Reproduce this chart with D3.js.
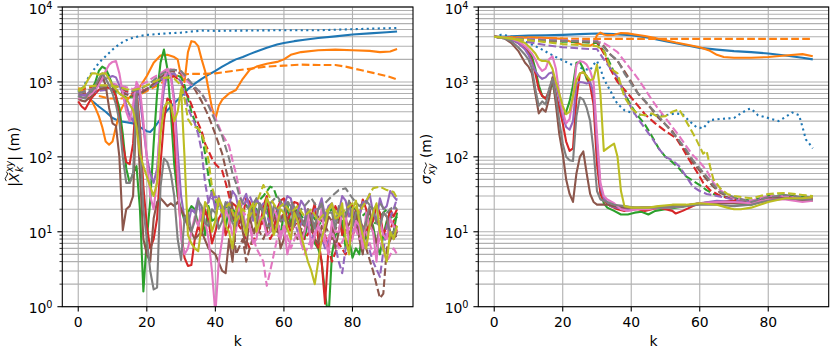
<!DOCTYPE html>
<html>
<head>
<meta charset="utf-8">
<script src="https://cdn.jsdelivr.net/npm/d3@7"></script>
<style>
body { margin: 0; background: #fff; }
svg { display: block; font-family: "DejaVu Sans", sans-serif; }
text { white-space: pre; }
</style>
</head>
<body>
<svg id="fig" width="830" height="353"></svg>
<script>
// ---- data: [k, value] pairs ----

// left panel, |X~xy_k| (m)
var magBlue = [[0,780],[2,650],[4,560],[6,470],[8,400],[10,330],[12,300],[14,290],[16,280],[18,250],[20,220],[21,215],[22,240],[24,320],[26,420],[28,520],[30,640],[32,800],[34,950],[36,1100],[38,1250],[40,1400],[42,1600],[44,1800],[46,2000],[48,2150],[50,2350],[52,2550],[55,2850],[58,3150],[60,3300],[63,3500],[66,3650],[70,3850],[75,4050],[80,4300],[85,4450],[90,4600],[93,4700]];
var magBlueDot = [[0,720],[1,800],[2,950],[3,1150],[4,1350],[5,1550],[6,1800],[8,2200],[10,2700],[12,3200],[14,3600],[16,3900],[18,4100],[20,4250],[23,4350],[26,4450],[30,4550],[33,4700],[36,4850],[40,4800],[50,4850],[60,4900],[70,4900],[80,5050],[86,5150],[93,5250]];
var magOrange = [[0,820],[2,700],[4,550],[5,450],[6,350],[7,250],[8,160],[9,145],[10,160],[11,250],[12,380],[13,480],[14,560],[16,700],[18,860],[20,1200],[22,1800],[24,2250],[26,2300],[28,2150],[29,2000],[30,1200],[31,1000],[32,2500],[33,3500],[34,3400],[35,3000],[36,2000],[37,1400],[38,800],[39,450],[40,320],[41,480],[42,580],[44,700],[46,780],[48,1100],[50,1450],[52,1600],[55,1750],[58,1850],[60,2000],[62,2300],[65,2500],[70,2650],[75,2700],[80,2650],[85,2600],[88,2500],[91,2550],[93,2750]];
var magOrangeDash = [[0,820],[3,750],[6,650],[9,600],[12,600],[15,620],[18,680],[21,800],[24,950],[27,1150],[30,1250],[33,1280],[36,1280],[40,1300],[45,1400],[50,1500],[55,1600],[60,1650],[65,1700],[70,1680],[75,1680],[78,1600],[82,1450],[86,1320],[90,1200],[93,1080]];
var magGreen = [[0,650],[1,600],[2,620],[3,700],[4,800],[5,1000],[6,1400],[7,1600],[8,1500],[9,1200],[10,900],[11,650],[12,450],[13,200],[14,70],[15,45],[16,60],[17,75],[18,20],[19,1.6],[20,8],[21,26],[22,150],[23,700],[24,1800],[25,2700],[26,1500],[27,400],[28,80],[29,30],[30,20],[31,14],[32,18],[33,22],[34,20],[35,12],[36,18],[37,9],[38,22],[39,14],[40,15],[41,26],[42,20],[43,11],[44,22],[45,16],[46,12],[47,24],[48,18],[49,10],[50,14],[51,22],[52,20],[53,13],[54,16],[55,25],[56,10],[57,18],[58,14],[59,9],[60,18],[61,24],[62,12],[63,17],[64,15],[65,10],[66,8],[67,14],[68,12],[69,7],[70,6],[71,4],[72,1.5],[73,0.7],[74,5],[75,9],[76,10],[77,14],[78,6],[79,8],[80,4.5],[81,6],[82,5],[83,11],[84,8],[85,15],[86,12],[87,7],[88,5],[89,9],[90,14],[91,8],[92,10],[93,18]];
var magGreenDash = [[0,700],[2,750],[4,800],[6,850],[8,830],[10,800],[12,700],[14,620],[16,640],[18,700],[20,800],[22,900],[24,1050],[26,1200],[28,1300],[30,1150],[31,900],[32,600],[33,400],[34,300],[35,230],[36,200],[37,110],[38,55],[39,32],[40,25],[42,20],[44,22],[46,18],[48,25],[50,20],[52,24],[54,30],[56,40],[57,38],[58,28],[60,22],[62,16],[64,20],[66,14],[68,18],[70,12],[72,16],[74,20],[76,14],[78,18],[80,22],[82,15],[84,18],[86,12],[88,16],[90,20],[92,14],[93,16]];
var magRed = [[0,550],[1,470],[2,430],[3,520],[4,620],[5,700],[6,780],[7,820],[8,850],[9,830],[10,800],[11,650],[12,320],[13,150],[14,85],[15,80],[16,150],[17,800],[18,250],[19,40],[20,12],[21,6],[22,8],[23,15],[24,80],[25,300],[26,600],[27,560],[28,180],[29,40],[30,10],[31,4.5],[32,3.5],[33,3.6],[34,8],[35,12],[36,9],[37,20],[38,14],[39,7],[40,10],[41,15],[42,18],[43,9],[44,12],[45,24],[46,22],[47,13],[48,16],[49,28],[50,25],[51,15],[52,18],[53,11],[54,22],[55,30],[56,15],[57,10],[58,20],[59,26],[60,28],[61,14],[62,18],[63,25],[64,24],[65,13],[66,12],[67,20],[68,16],[69,24],[70,8],[71,4],[72,1.1],[73,6],[74,12],[75,22],[76,18],[77,9],[78,14],[79,25],[80,22],[81,12],[82,16],[83,27],[84,20],[85,11],[86,14],[87,22],[88,18],[89,9],[90,12],[91,20],[92,16],[93,20]];
var magRedDash = [[0,800],[2,820],[4,850],[6,870],[8,880],[10,900],[12,850],[14,750],[16,700],[18,750],[20,800],[22,900],[24,1050],[26,1150],[28,1200],[30,1000],[31,780],[32,650],[33,500],[34,380],[35,280],[36,220],[37,150],[38,120],[39,95],[40,80],[41,72],[42,65],[43,45],[44,30],[45,20],[46,14],[48,10],[50,6],[52,9],[54,14],[56,8],[58,12],[60,18],[62,10],[64,14],[66,8],[68,11],[70,6],[72,9],[74,4],[76,7],[78,5],[80,9],[82,14],[84,10],[86,16],[88,12],[90,8],[92,14],[93,10]];
var magPurple = [[0,700],[2,650],[4,800],[6,1000],[8,1100],[10,1200],[11,1150],[12,900],[13,700],[14,500],[15,350],[16,300],[17,900],[18,600],[19,250],[20,100],[21,60],[22,45],[23,70],[24,300],[25,800],[26,1300],[27,1250],[28,600],[29,120],[30,30],[31,15],[32,12],[33,20],[34,18],[35,28],[36,14],[37,22],[38,25],[39,34],[40,20],[41,30],[42,16],[43,24],[44,22],[45,35],[46,30],[47,18],[48,26],[49,32],[50,20],[51,14],[52,28],[53,22],[54,18],[55,26],[56,24],[57,15],[58,16],[59,24],[60,22],[61,30],[62,28],[63,17],[64,18],[65,26],[66,22],[67,12],[68,14],[69,20],[70,20],[71,28],[72,16],[73,22],[74,24],[75,14],[76,18],[77,30],[78,26],[79,16],[80,20],[81,12],[82,16],[83,25],[84,24],[85,32],[86,18],[87,14],[88,28],[89,20],[90,22],[91,35],[92,30],[93,26]];
var magPurpleDash = [[0,650],[2,680],[4,720],[6,760],[8,780],[10,800],[12,760],[14,700],[16,680],[18,720],[20,800],[22,900],[24,1050],[26,1250],[28,1300],[30,1000],[31,700],[32,450],[33,350],[34,280],[35,200],[36,120],[37,45],[38,25],[40,30],[42,20],[44,26],[46,15],[48,22],[50,30],[52,18],[54,24],[56,12],[58,18],[60,14],[62,20],[64,10],[66,16],[68,8],[70,12],[72,6],[74,10],[76,4],[77,2.8],[78,6],[80,10],[82,14],[84,8],[86,4],[88,2.5],[90,12],[92,20],[93,28]];
var magBrown = [[0,600],[1,560],[2,550],[3,600],[4,650],[5,800],[6,1000],[7,1200],[8,900],[9,450],[10,280],[11,260],[12,100],[13,10.5],[14,20],[15,22],[16,30],[17,500],[18,60],[19,8],[20,5],[21,4],[22,15],[23,25],[24,28],[25,25],[26,22],[27,24],[28,22],[29,25],[30,20],[31,16],[32,12],[34,8],[36,10],[38,6],[40,5],[42,3],[43,2.8],[44,8],[45,4],[46,14],[47,20],[48,10],[49,6],[50,16],[51,10],[52,12],[53,22],[54,18],[55,9],[56,10],[57,16],[58,14],[59,6],[60,8],[61,14],[62,12],[63,20],[64,16],[65,9],[66,10],[67,18],[68,14],[69,8],[70,7],[71,12],[72,10],[73,16],[74,14],[75,6],[76,10],[77,18],[78,16],[79,9],[80,12],[81,20],[82,8],[83,5],[84,14],[85,20],[86,10],[87,7],[88,12],[89,18],[90,16],[91,10],[92,8],[93,10]];
var magBrownDash = [[0,700],[2,720],[4,750],[6,800],[8,820],[10,800],[12,750],[14,680],[16,650],[18,700],[20,800],[22,950],[24,1150],[26,1350],[28,1400],[30,1300],[32,1050],[34,800],[36,550],[38,350],[40,200],[42,110],[43,70],[44,45],[45,20],[46,5],[48,8],[49,4],[50,6],[52,12],[54,8],[56,14],[58,10],[60,18],[62,12],[64,8],[66,14],[68,10],[70,16],[72,12],[74,8],[76,14],[78,10],[80,16],[82,12],[84,6],[86,3],[88,1.3],[89,1.5],[90,6],[92,10],[93,8]];
var magPink = [[0,600],[2,620],[4,700],[6,900],[7,1100],[8,1400],[9,1700],[10,1850],[11,1900],[12,1300],[13,700],[14,400],[15,300],[16,500],[17,1000],[18,800],[19,300],[20,100],[21,30],[22,20],[23,50],[24,400],[25,1100],[26,1500],[27,1200],[28,500],[29,60],[30,8],[31,5],[32,6],[33,10],[34,16],[35,12],[36,20],[37,14],[38,8],[39,3],[40,0.8],[41,4],[42,8],[43,20],[44,15],[45,9],[46,10],[47,22],[48,18],[49,11],[50,12],[51,7],[52,8],[53,16],[54,14],[55,9],[56,10],[57,20],[58,16],[59,8],[60,12],[61,5],[62,8],[63,15],[64,14],[65,7],[66,10],[67,18],[68,6],[69,9],[70,12],[71,20],[72,8],[73,5],[74,14],[75,10],[76,10],[77,19],[78,16],[79,7],[80,8],[81,14],[82,12],[83,6],[84,18],[85,12],[86,10],[87,4],[88,14],[89,9],[90,8],[91,15],[92,12],[93,10]];
var magPinkDash = [[0,700],[2,750],[4,800],[6,850],[8,900],[10,950],[12,900],[14,850],[16,800],[18,900],[20,1000],[22,1150],[24,1300],[26,1500],[28,1450],[30,1350],[32,1000],[34,850],[36,700],[38,500],[40,330],[42,200],[44,140],[45,90],[46,60],[47,36],[48,20],[50,12],[52,6],[54,4],[55,1.9],[56,3],[58,8],[60,12],[62,6],[64,10],[66,5],[68,8],[70,12],[72,7],[74,10],[76,6],[78,9],[80,14],[82,8],[84,10],[86,5],[88,8],[90,4],[92,6],[93,5]];
var magGray = [[0,650],[2,600],[3,700],[4,750],[5,900],[6,1100],[7,1300],[8,1100],[9,900],[10,700],[11,500],[12,300],[13,100],[14,45],[15,45],[16,60],[17,700],[18,200],[19,20],[20,8],[21,3],[22,1.7],[23,1.8],[24,40],[25,95],[26,85],[27,60],[28,30],[29,8],[30,4.2],[31,15],[32,18],[33,10],[34,14],[35,26],[36,22],[37,13],[38,12],[39,20],[40,18],[41,11],[42,14],[43,25],[44,20],[45,13],[46,12],[47,18],[48,16],[49,9],[50,22],[51,16],[52,14],[53,24],[54,18],[55,12],[56,12],[57,22],[58,20],[59,14],[60,15],[61,25],[62,22],[63,12],[64,18],[65,15],[66,12],[67,20],[68,16],[69,11],[70,20],[71,24],[72,14],[73,18],[74,18],[75,11],[76,22],[77,16],[78,16],[79,26],[80,12],[81,18],[82,18],[83,10],[84,14],[85,22],[86,20],[87,13],[88,12],[89,18],[90,16],[91,9],[92,10],[93,12]];
var magGrayDash = [[0,700],[2,750],[4,800],[6,850],[8,880],[10,900],[12,850],[14,780],[16,750],[18,800],[20,900],[22,1050],[24,1250],[26,1400],[28,1450],[30,1400],[32,1100],[34,850],[36,700],[38,480],[40,300],[42,190],[44,95],[45,60],[46,45],[47,30],[48,24],[50,20],[52,28],[54,18],[56,24],[58,30],[60,22],[62,26],[64,18],[66,22],[68,28],[70,20],[72,24],[74,30],[76,36],[78,38],[80,28],[82,22],[84,26],[86,20],[88,24],[90,18],[92,22],[93,20]];
var magOlive = [[0,750],[1,800],[2,900],[3,1100],[4,1300],[5,1300],[6,1250],[7,1300],[8,1300],[9,1100],[10,900],[11,800],[12,700],[13,650],[14,600],[15,500],[16,420],[17,250],[18,110],[19,75],[20,55],[21,40],[22,30],[23,45],[24,200],[25,450],[26,540],[27,500],[28,300],[29,400],[30,800],[31,100],[32,9],[33,7],[34,6],[35,5.5],[36,12],[37,25],[38,20],[39,10],[40,14],[41,28],[42,22],[43,12],[44,10],[45,6],[46,18],[47,26],[48,14],[49,9],[50,20],[51,24],[52,10],[53,14],[54,16],[55,28],[56,22],[57,9],[58,12],[59,20],[60,18],[61,11],[62,8],[63,18],[64,14],[65,9],[66,6],[67,4],[68,3],[69,2],[70,4],[71,8],[72,12],[73,20],[74,24],[75,15],[76,16],[77,24],[78,8],[79,5],[80,20],[81,26],[82,14],[83,9],[84,6],[85,12],[86,18],[87,24],[88,10],[89,6],[90,4],[91,10],[92,8],[93,12]];
var magOliveDash = [[0,800],[2,850],[4,880],[6,900],[8,900],[10,880],[12,850],[14,800],[16,780],[18,820],[20,900],[22,1000],[24,1100],[26,1150],[28,1100],[30,900],[31,600],[32,320],[33,270],[34,250],[35,240],[36,200],[37,150],[38,90],[39,40],[40,28],[42,18],[44,24],[46,14],[48,20],[50,16],[52,24],[54,42],[56,28],[58,20],[60,24],[62,18],[64,22],[66,16],[68,20],[70,14],[72,18],[74,22],[76,16],[78,20],[80,24],[82,18],[84,26],[86,38],[88,40],[90,36],[92,34],[93,28]];

// right panel, sigma_xy (m)
var sigBlue = [[0,4000],[5,4050],[10,4150],[15,4200],[20,4250],[25,4350],[30,4420],[35,4350],[40,4200],[45,3900],[50,3500],[55,3150],[60,2850],[65,2700],[70,2580],[75,2500],[80,2400],[85,2250],[90,2100],[93,2000]];
var sigBlueDot = [[0,4000],[2,4250],[4,4150],[6,3900],[8,3600],[10,3300],[12,3000],[14,2700],[16,2400],[18,2150],[20,1950],[22,1750],[24,1600],[26,1500],[28,1440],[29,1700],[30,1900],[31,1500],[32,1100],[33,900],[34,750],[35,600],[36,510],[38,420],[40,390],[43,360],[46,360],[50,360],[53,380],[55,370],[57,300],[59,250],[61,240],[63,310],[66,320],[70,330],[72,380],[74,430],[75,440],[77,360],[80,330],[83,300],[85,340],[87,390],[89,360],[90,250],[91,170],[92,150],[93,130]];
var sigOrange = [[0,4000],[4,3950],[8,3900],[12,3900],[16,3850],[20,3750],[22,3500],[24,3300],[26,3100],[28,3050],[29,3200],[30,4200],[31,4550],[32,4300],[33,4200],[35,4250],[37,4500],[39,4450],[41,4300],[44,4100],[47,3850],[50,3600],[53,3350],[56,3150],[60,2900],[63,2600],[65,2300],[67,2150],[70,2100],[75,2100],[80,2150],[85,2250],[90,2350],[93,2200]];
var sigOrangeDash = [[0,4000],[5,3950],[10,3900],[15,3850],[20,3800],[25,3750],[30,3750],[40,3750],[50,3750],[60,3750],[70,3750],[80,3750],[93,3750]];
var sigGreen = [[0,4000],[3,3900],[5,3800],[7,3500],[9,2900],[10,2600],[11,2200],[12,1500],[13,900],[14,650],[15,600],[16,700],[17,1000],[18,600],[19,450],[20,350],[21,400],[22,550],[23,900],[24,1800],[25,1850],[26,1500],[27,1100],[28,950],[29,700],[30,150],[31,35],[32,24],[33,21],[35,19],[37,17],[39,17],[41,18],[43,18.5],[45,17],[47,19],[50,20],[53,21],[56,22],[60,24],[65,25],[70,24],[75,23],[80,27],[85,29],[90,28],[93,27]];
var sigGreenDash = [[0,4000],[5,3800],[10,3600],[15,3500],[20,3450],[25,3400],[30,3300],[32,2600],[34,1700],[36,1050],[38,700],[40,480],[42,350],[44,270],[46,190],[48,130],[50,100],[52,85],[54,70],[56,55],[58,48],[60,42],[62,36],[64,32],[66,30],[70,28],[75,26],[80,30],[85,31],[90,29],[93,30]];
var sigRed = [[0,4000],[3,3900],[5,3700],[7,3300],[9,2800],[10,2400],[11,1900],[12,1300],[13,800],[14,650],[15,600],[16,750],[17,1100],[18,700],[19,450],[20,280],[21,160],[22,120],[23,130],[24,600],[25,1300],[26,1350],[27,1200],[28,900],[29,500],[30,80],[31,32],[32,26],[34,22],[36,20],[38,19],[40,20],[42,20],[44,19],[46,20],[48,21],[50,20],[52,19],[53,17.5],[55,19],[58,22],[60,24],[65,25],[70,26],[75,24],[80,28],[85,29],[90,27],[93,28]];
var sigRedDash = [[0,4000],[5,3850],[10,3700],[15,3600],[20,3550],[25,3500],[30,3450],[32,2400],[34,1450],[36,1000],[39,700],[42,480],[44,370],[47,280],[50,220],[53,180],[55,130],[57,90],[59,65],[61,45],[63,36],[66,30],[70,27],[75,25],[80,29],[85,30],[90,28],[93,28]];
var sigPurple = [[0,4000],[3,3900],[5,3700],[7,3300],[9,2700],[10,2300],[11,1800],[12,1400],[13,1200],[14,1100],[15,1150],[16,1300],[17,1350],[18,900],[19,600],[20,350],[21,250],[22,230],[23,300],[24,950],[25,1000],[26,980],[27,950],[28,1000],[29,700],[30,150],[31,40],[32,28],[34,22],[36,21],[38,20],[40,20],[43,21],[46,21],[50,22],[55,22],[60,24],[65,26],[70,25],[75,25],[80,28],[85,28],[90,26],[93,27]];
var sigPurpleDash = [[0,4000],[5,3700],[10,3400],[15,3100],[20,2900],[25,2800],[28,2750],[30,2750],[32,2000],[34,1500],[36,1150],[38,700],[40,450],[42,320],[44,240],[46,180],[48,130],[50,100],[52,90],[54,75],[56,55],[58,40],[60,35],[62,32],[65,30],[70,27],[75,25],[80,29],[85,30],[90,28],[93,29]];
var sigBrown = [[0,4000],[3,3800],[5,3300],[7,2600],[9,1800],[10,1600],[11,1300],[12,700],[13,380],[14,440],[15,400],[16,600],[17,1150],[18,500],[19,200],[20,110],[21,50],[22,32],[23,25],[24,60],[25,100],[26,118],[27,60],[28,32],[29,25],[30,23],[31,23],[33,23],[35,22],[38,21],[41,21],[45,21],[50,22],[55,22],[60,24],[65,24],[70,24],[75,24],[80,28],[85,28],[90,26],[93,26]];
var sigBrownDash = [[0,4000],[5,3850],[10,3700],[15,3600],[20,3550],[25,3500],[30,3500],[32,3000],[34,2300],[36,1900],[38,1400],[40,1000],[42,700],[44,550],[46,430],[48,330],[50,270],[52,220],[54,160],[56,120],[58,85],[60,65],[62,50],[64,40],[66,33],[70,28],[75,25],[80,29],[85,30],[90,29],[93,29]];
var sigPink = [[0,4000],[3,3900],[5,3800],[7,3500],[9,3000],[10,2700],[11,2400],[12,2000],[13,1600],[14,1400],[15,1500],[16,2000],[17,2200],[18,1500],[19,700],[20,400],[21,280],[22,320],[23,600],[24,1700],[25,1900],[26,1850],[27,1700],[28,1400],[29,1000],[30,200],[31,45],[32,30],[33,27],[35,24],[37,20],[39,19],[42,20],[45,20],[48,21],[51,21],[55,22],[60,24],[65,25],[70,25],[75,24],[80,27],[85,27],[90,25],[93,26]];
var sigPinkDash = [[0,4000],[5,3850],[10,3750],[15,3650],[20,3600],[25,3550],[30,3500],[32,3300],[34,2900],[36,2500],[38,1900],[40,1450],[42,1100],[44,800],[46,580],[48,430],[50,330],[52,250],[54,190],[56,140],[58,105],[60,85],[62,66],[64,45],[66,36],[68,31],[70,28],[75,26],[80,30],[85,30],[90,28],[93,28]];
var sigGray = [[0,4000],[3,3800],[5,3500],[7,2900],[9,2300],[10,2000],[11,1500],[12,800],[13,480],[14,550],[15,500],[16,800],[17,1100],[18,650],[19,300],[20,150],[21,100],[22,90],[23,88],[24,350],[25,620],[26,580],[27,450],[28,300],[29,120],[30,35],[31,27],[33,25],[35,23],[38,22],[41,21],[45,21],[50,21],[55,22],[60,23],[65,23],[70,22],[75,23],[80,26],[85,28],[90,27],[93,27]];
var sigGrayDash = [[0,4000],[5,3850],[10,3700],[15,3600],[20,3550],[25,3500],[30,3450],[32,2900],[34,2300],[36,1950],[38,1300],[40,950],[42,700],[44,560],[46,440],[48,350],[50,270],[52,210],[54,165],[56,125],[58,90],[60,70],[62,55],[64,42],[66,34],[70,29],[75,25],[80,29],[85,31],[90,29],[93,29]];
var sigOlive = [[0,4000],[3,3900],[5,3800],[7,3600],[9,3300],[10,3000],[11,2700],[12,2400],[13,2000],[14,1900],[15,1900],[16,1850],[17,1500],[18,1000],[19,700],[20,480],[21,370],[22,400],[23,650],[24,1050],[25,1300],[26,1350],[27,1200],[28,1050],[29,1100],[30,1700],[31,700],[32,120],[33,130],[34,140],[35,150],[36,100],[37,35],[38,22],[40,21],[43,21],[45,21],[48,22],[52,23],[56,23],[60,24],[65,23],[68,21],[70,20],[72,20],[75,21],[80,25],[85,28],[90,28],[93,29]];
var sigOliveDash = [[0,4000],[5,3800],[10,3600],[15,3400],[20,3200],[25,3100],[28,3050],[30,3000],[32,2600],[34,1500],[36,1300],[38,630],[40,450],[42,370],[44,360],[46,380],[48,340],[50,350],[52,400],[54,430],[55,360],[57,250],[59,170],[61,110],[62,120],[63,75],[64,50],[66,38],[68,32],[70,30],[75,28],[80,32],[85,33],[90,31],[93,30]];

var xTicks = [0, 20, 40, 60, 80];
var yDecades = [0, 1, 2, 3, 4];

// tab10 colours
var C = {
    blue: "#1f77b4", orange: "#ff7f0e", green: "#2ca02c", red: "#d62728",
    purple: "#9467bd", brown: "#8c564b", pink: "#e377c2", gray: "#7f7f7f", olive: "#bcbd22"
};
var SOLID = null, DASH = "7.7,3.3", DOT = "2.1,3.4";

var leftSeries = [
    [magBlue, C.blue, SOLID], [magBlueDot, C.blue, DOT],
    [magOrange, C.orange, SOLID], [magOrangeDash, C.orange, DASH],
    [magGreen, C.green, SOLID], [magGreenDash, C.green, DASH],
    [magRed, C.red, SOLID], [magRedDash, C.red, DASH],
    [magPurple, C.purple, SOLID], [magPurpleDash, C.purple, DASH],
    [magBrown, C.brown, SOLID], [magBrownDash, C.brown, DASH],
    [magPink, C.pink, SOLID], [magPinkDash, C.pink, DASH],
    [magGray, C.gray, SOLID], [magGrayDash, C.gray, DASH],
    [magOlive, C.olive, SOLID], [magOliveDash, C.olive, DASH]
];
var rightSeries = [
    [sigBlue, C.blue, SOLID], [sigBlueDot, C.blue, DOT],
    [sigOrange, C.orange, SOLID], [sigOrangeDash, C.orange, DASH],
    [sigGreen, C.green, SOLID], [sigGreenDash, C.green, DASH],
    [sigRed, C.red, SOLID], [sigRedDash, C.red, DASH],
    [sigPurple, C.purple, SOLID], [sigPurpleDash, C.purple, DASH],
    [sigBrown, C.brown, SOLID], [sigBrownDash, C.brown, DASH],
    [sigPink, C.pink, SOLID], [sigPinkDash, C.pink, DASH],
    [sigGray, C.gray, SOLID], [sigGrayDash, C.gray, DASH],
    [sigOlive, C.olive, SOLID], [sigOliveDash, C.olive, DASH]
];

var svg = d3.select("#fig");
var FS = 13.9, FS_SMALL = 9.7;
var TOP = 7, BOTTOM = 306.7;

// label built out of pieces (mathtext-ish), rotated -90 around (cx, cy)
function mathLabel(parent, parts, cx, cy) {
    var g = parent.append("g");
    var pos = 0;
    parts.forEach(function(p) {
        var start = pos, w = 0;
        (p.stack || [p]).forEach(function(q) {
            var t = g.append("text")
                .attr("x", start).attr("y", -(q.rise || 0))
                .attr("font-size", q.size || FS)
                .attr("font-style", q.it ? "italic" : "normal")
                .text(q.t);
            var qw = t.node().getComputedTextLength();
            if (q.tilde) {
                var yb = -(q.rise || 0) - (q.size || FS) * 0.8 - 1.5;
                var x0 = start + 1, x1 = start + qw + 1;
                g.append("path")
                    .attr("d", "M" + x0 + "," + yb + " Q" + (x0 + (x1 - x0) * 0.25) + "," + (yb - 2.6) + " " + ((x0 + x1) / 2) + "," + yb + " T" + x1 + "," + yb)
                    .attr("fill", "none").attr("stroke", "#000").attr("stroke-width", 0.9);
            }
            w = Math.max(w, qw);
        });
        pos = start + w + (p.kern || 0);
    });
    g.attr("transform", "translate(" + cx + "," + cy + ") rotate(-90) translate(" + (-pos / 2) + ",0)");
}

function panel(id, x0, x1, series) {
    var x = d3.scaleLinear().domain([-4.65, 97.65]).range([x0, x1]);
    var y = d3.scaleLog().domain([1, 1e4]).range([BOTTOM, TOP]);
    var g = svg.append("g");

    var minor = [];
    for (var e = 0; e < 4; e++) for (var m = 2; m <= 9; m++) minor.push(m * Math.pow(10, e));
    var major = yDecades.map(function(d) { return Math.pow(10, d); });

    // grid
    g.append("g").selectAll("line").data(minor.concat(major)).enter().append("line")
        .attr("x1", x0).attr("x2", x1)
        .attr("y1", function(d) { return y(d); }).attr("y2", function(d) { return y(d); })
        .attr("stroke", "#b0b0b0").attr("stroke-width", 1.1);
    g.append("g").selectAll("line").data(xTicks).enter().append("line")
        .attr("x1", function(d) { return x(d); }).attr("x2", function(d) { return x(d); })
        .attr("y1", TOP).attr("y2", BOTTOM)
        .attr("stroke", "#b0b0b0").attr("stroke-width", 1.1);

    // lines
    svg.append("clipPath").attr("id", id).append("rect")
        .attr("x", x0).attr("y", TOP).attr("width", x1 - x0).attr("height", BOTTOM - TOP);
    var line = d3.line().x(function(d) { return x(d[0]); }).y(function(d) { return y(d[1]); });
    var lg = g.append("g").attr("clip-path", "url(#" + id + ")");
    series.forEach(function(s) {
        lg.append("path").attr("d", line(s[0]))
            .attr("fill", "none").attr("stroke", s[1]).attr("stroke-width", 2.1)
            .attr("stroke-linejoin", "round")
            .attr("stroke-dasharray", s[2]);
    });

    // spines
    g.append("rect").attr("x", x0).attr("y", TOP).attr("width", x1 - x0).attr("height", BOTTOM - TOP)
        .attr("fill", "none").attr("stroke", "#000").attr("stroke-width", 1.1);

    // x ticks
    xTicks.forEach(function(t) {
        g.append("line").attr("x1", x(t)).attr("x2", x(t)).attr("y1", BOTTOM).attr("y2", BOTTOM + 4.9)
            .attr("stroke", "#000").attr("stroke-width", 1.1);
        g.append("text").attr("x", x(t)).attr("y", BOTTOM + 20.3).attr("text-anchor", "middle")
            .attr("font-size", FS).text(t);
    });
    g.append("text").attr("x", (x0 + x1) / 2).attr("y", 346).attr("text-anchor", "middle")
        .attr("font-size", FS).text("k");

    // y ticks
    minor.forEach(function(v) {
        g.append("line").attr("x1", x0 - 2.8).attr("x2", x0).attr("y1", y(v)).attr("y2", y(v))
            .attr("stroke", "#000").attr("stroke-width", 0.8);
    });
    yDecades.forEach(function(d) {
        var yy = y(Math.pow(10, d));
        g.append("line").attr("x1", x0 - 4.9).attr("x2", x0).attr("y1", yy).attr("y2", yy)
            .attr("stroke", "#000").attr("stroke-width", 1.1);
        var t = g.append("text").attr("x", x0 - 9.8).attr("y", yy + 6.5).attr("text-anchor", "end")
            .attr("font-size", FS);
        t.append("tspan").text("10");
        t.append("tspan").attr("font-size", FS_SMALL).attr("dy", -4.8).text(d);
    });
    return g;
}

panel("clipL", 62.3, 413, leftSeries);
panel("clipR", 478.3, 828.7, rightSeries);

// axis labels
mathLabel(svg, [
    { t: "|" },
    { t: "X", it: true, tilde: true, kern: 0.5 },
    { stack: [{ t: "xy", it: true, size: FS_SMALL, rise: 6.5 }, { t: "k", it: true, size: FS_SMALL, rise: -3.5 }] },
    { t: "| (m)" }
], 19, 157);

mathLabel(svg, [
    { t: "σ", it: true, kern: 0.5 },
    { t: "xy", it: true, size: FS_SMALL, rise: -3.5, tilde: true, kern: 1 },
    { t: " (m)" }
], 431, 159);
</script>
</body>
</html>
